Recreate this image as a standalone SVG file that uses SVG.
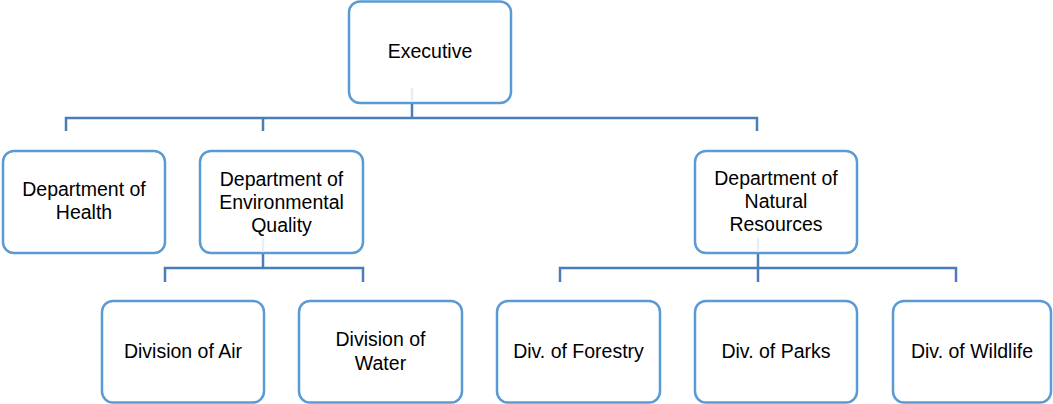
<svg xmlns="http://www.w3.org/2000/svg" width="1053" height="404" viewBox="0 0 1053 404">
<style>
.box{fill:#fff;stroke:#5b9bd5;stroke-width:2.5}
.t{font-family:"Liberation Sans",Arial,sans-serif;font-size:19.5px;fill:#000;text-anchor:middle}
.c{fill:none;stroke:#4a7ebb;stroke-width:2.5}
.f{fill:none;stroke:#e6eef8;stroke-width:2.5}
</style>
<rect width="1053" height="404" fill="#fff"/>
<g id="n-executive"><rect class="box" x="349" y="1.5" width="162" height="101.5" rx="11"/><text class="t" x="430" y="58">Executive</text></g>
<g id="n-health"><rect class="box" x="3" y="151" width="162" height="102" rx="11"/><text class="t" x="84" y="196">Department of</text><text class="t" x="84" y="219">Health</text></g>
<g id="n-envq"><rect class="box" x="200" y="151" width="163" height="102" rx="11"/><text class="t" x="281.5" y="186">Department of</text><text class="t" x="281.5" y="209">Environmental</text><text class="t" x="281.5" y="232">Quality</text></g>
<g id="n-natres"><rect class="box" x="695" y="151" width="162" height="102" rx="11"/><text class="t" x="776" y="185">Department of</text><text class="t" x="776" y="208">Natural</text><text class="t" x="776" y="231">Resources</text></g>
<g id="n-air"><rect class="box" x="102" y="301" width="162" height="101.5" rx="11"/><text class="t" x="183" y="358">Division of Air</text></g>
<g id="n-water"><rect class="box" x="299" y="301" width="163" height="101.5" rx="11"/><text class="t" x="380.5" y="346">Division of</text><text class="t" x="380.5" y="370">Water</text></g>
<g id="n-forestry"><rect class="box" x="497" y="301" width="163" height="101.5" rx="11"/><text class="t" x="578.5" y="358">Div. of Forestry</text></g>
<g id="n-parks"><rect class="box" x="695" y="301" width="162" height="101.5" rx="11"/><text class="t" x="776" y="358">Div. of Parks</text></g>
<g id="n-wildlife"><rect class="box" x="893" y="301" width="158" height="101.5" rx="11"/><text class="t" x="972" y="358">Div. of Wildlife</text></g>
<g id="connectors">
<path class="f" d="M412 88V102 M263 238V252 M758 238V252"/>
<path class="c" d="M412 104V118 M66 131V118H757V131 M263 118V131"/>
<path class="c" d="M263 254V268 M165 282V268H363V282"/>
<path class="c" d="M758 254V282 M560 282V268H956V282"/>
</g>
</svg>
